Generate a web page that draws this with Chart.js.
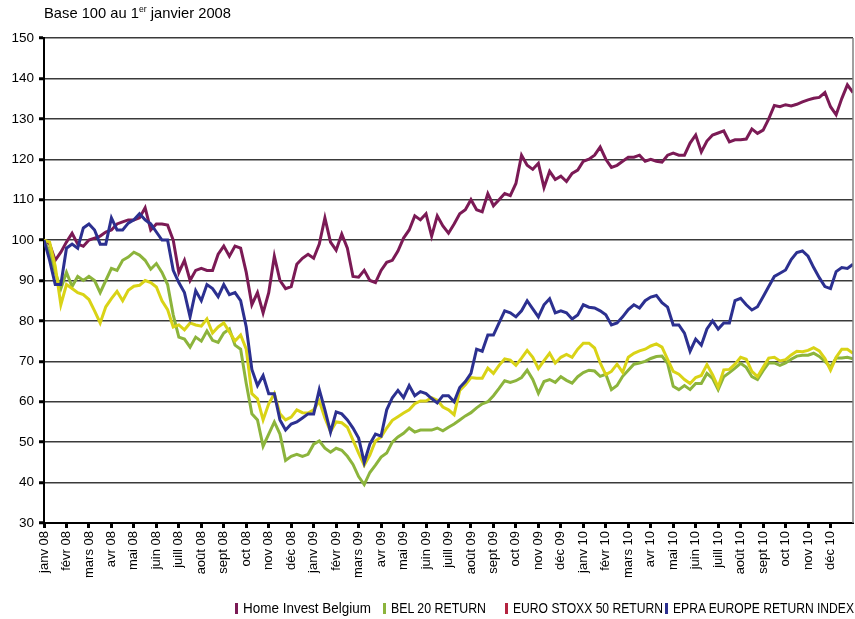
<!DOCTYPE html>
<html>
<head>
<meta charset="utf-8">
<script src="https://cdn.jsdelivr.net/npm/chart.js@4.4.1/dist/chart.umd.min.js"></script>
<style>
  html,body{margin:0;padding:0;background:#fff;}
  #wrap{position:relative;width:855px;height:619px;overflow:hidden;font-family:"Liberation Sans",Arial,sans-serif;color:#000;}
  #title{position:absolute;left:44px;top:5px;font-size:14.5px;white-space:nowrap;display:inline-block;transform-origin:0 50%;}
  #title sup{font-size:8.5px;vertical-align:6px;line-height:0;}
  .leg{position:absolute;top:600px;font-size:14px;white-space:nowrap;line-height:16px;}
  .leg i{display:inline-block;width:3px;height:11px;margin-right:5px;vertical-align:-1px;}
  .leg span{display:inline-block;transform-origin:0 50%;}
  canvas{position:absolute;left:0;top:0;}
</style>
</head>
<body>
<div id="wrap">
  <canvas id="c" width="855" height="619"></canvas>
  <div id="title">Base 100 au 1<sup>er</sup> janvier 2008</div>
  <div id="legend"></div>
</div>
<script>
// ---- Data (sampled every quarter month, Jan 2008 -> Dec 2010) ----
const monthNames = ['janv','févr','mars','avr','mai','juin','juill','août','sept','oct','nov','déc'];
const years = ['08','09','10'];
const seriesNames = ['Home Invest Belgium','BEL 20 RETURN','EURO STOXX 50 RETURN','EPRA EUROPE RETURN INDEX'];

const homeInvest = [100,99,95,97,99.5,101.7,99,98.5,100,100.5,
101,102,102.5,104,104.5,105,105,105.5,108,102.5,
104,104,103.7,100,92,95,90,92.5,93,92.5,
92.5,96.5,98.5,96,98.5,98,92,84,87,82,
87,96,90,88,88.5,94,95.5,96.5,95.5,99,
105.5,99.5,97.5,101.5,98,91,90.8,92.5,90,89.5,
92.5,94.5,95,97.3,100.5,102.5,106,105,106.5,101,
106,103.5,101.7,104,106.5,107.5,110,107.5,107,111.5,
108.5,110,111.5,111,114,121,118.5,117.5,119,113,
117,115,115.8,114.5,116.5,117.3,119.5,120,121,123,
120,118,118.5,119.5,120.5,120.5,121,119.5,120,119.5,
119.3,121,121.5,121,121,124,126,121.8,124.5,126,
126.5,127,124.3,124.8,124.8,125,127.5,126.4,127.2,130,
133.3,133,133.5,133.2,133.6,134.2,134.7,135.1,135.3,136.5,
133,131,135,138.4,136.5];

const bel20 = [100,97,92,88,92,88.5,91,90,91,90,
87,90,93,92.5,95,95.8,97,96.3,95,92.8,
94.2,92,89,81.5,76,75.5,73.5,76,75,77.5,
75.2,74.7,77,78,74,73,64.5,57,55.5,49,
52,55,52,45.5,46.5,47,46.5,47,49.5,50.3,
48.5,47.5,48.5,48,46.5,44.5,41.5,39.5,42.5,44.3,
46.3,47.3,50,51.3,52.2,53.5,52.5,53,53,53,
53.5,52.8,53.7,54.5,55.5,56.5,57.3,58.5,59.5,60,
61.5,63.3,65.2,64.8,65.2,66,67.8,65.5,62.1,65,
65.5,64.8,66.2,65.3,64.6,66.2,67.2,67.8,67.6,66.3,
66.8,63,64,66.3,67.8,69.3,69.6,70,70.7,71.2,
71.3,69.5,63.8,63,64,63,64.5,64.5,67,65.8,
63,66.2,67.2,68.3,69.5,68.5,66.2,65.5,67.7,69.6,
69.6,69,69.6,70.5,71.3,71.5,71.5,72,71.2,70,
68.6,70.8,70.8,71,70.6];

const euroStoxx50 = [100,99.5,93.5,84,89,88,87,86.5,85.3,82.5,
79.5,83.5,85.5,87.3,85,87.6,88.6,88.8,90,89.5,
88.4,85,82.8,78.5,79,77.8,79.5,79,78.7,80.5,
77,78.5,79.5,77.3,75,76.5,73,62,60.7,55.5,
59.5,62,57,55.5,56.2,58,57.3,57.2,58,60.2,
56,52.6,55,54.8,53.7,50.5,47.3,44.3,46.8,50.3,
51.3,53.5,55.4,56.3,57.2,58,59.5,60.2,60.2,61,
60.4,58.7,58,56.8,62.8,64.2,66,65.8,65.8,68.3,
67,69,70.6,70.3,69,70.8,72.7,71,68.2,70.2,
72,69.6,71,71.7,71,73,74.5,74.5,73.3,69.6,
66.7,67.5,69.3,67.3,71,72,72.6,73,73.8,74.3,
73.5,70.5,67.5,66.8,65.5,64.5,66,66.5,69.2,66.7,
63.6,67.9,68,69.3,71,70.5,67.5,66.2,68.5,70.8,
71,70.1,70.4,71.6,72.5,72.4,72.7,73.4,72.6,70.7,
67.8,71,73,73,72];

const epraEurope = [100,95,89,89,98,99,98,103,104,102.5,
99,99,105.5,102.5,102.5,104.2,105,106.5,105,104,
102,100,100,92.5,89.5,87,81,87.5,85,89,
88,86,89,86.5,87,85,78.5,68,64,66.5,
62,62,55.5,53,54.5,55,56,57,57,63,
58,52.5,57.5,57,55.5,53.5,51,45,49.5,52,
51.5,58,61,62.8,61,64,61.5,62.5,62,60.8,
59.7,61.5,61.5,60,63.5,65,67,73,72.5,76.5,
76.5,79.5,82.5,82,81,82.5,85,83,81,84,
85.5,82,82.5,82,80.5,81.5,84,83.4,83.2,82.5,
81.5,79,79.5,81,82.8,84,83.2,85,85.9,86.3,
84.5,83.4,79,79,77,72.5,75.5,74,78,80,
78,79.5,79.5,85,85.6,84,82.7,83.5,86,88.5,
91,91.8,92.6,95.2,96.9,97.3,96,93.2,90.7,88.5,
88,92.2,93.2,93,94];

const samplesPerMonth = 4;
const yTicks = {min:30, max:150, step:10};

// ---- Build ----
const monthLabels = [];
years.forEach(y => monthNames.forEach(m => monthLabels.push(m + ' ' + y)));

function toPoints(arr){ return arr.map((v,i)=>({x:i/samplesPerMonth, y:v})); }

const lineColors = ['#7b1a55','#8cb43c','#d9d316','#2c3090'];
const legendColors = ['#7b1a55','#8cb43c','#b4233f','#2c3090'];
const seriesData = [homeInvest, bel20, euroStoxx50, epraEurope];
const drawOrder = [3,2,1,0];

const FONT = '"Liberation Sans",Arial,sans-serif';

const rightBorder = {
  id:'rightBorder',
  afterDraw(chart){
    const a = chart.chartArea, ctx = chart.ctx;
    ctx.save();
    ctx.strokeStyle = '#808080'; ctx.lineWidth = 1.5;
    ctx.beginPath(); ctx.moveTo(a.right, a.top); ctx.lineTo(a.right, a.bottom); ctx.stroke();
    ctx.restore();
  }
};

new Chart(document.getElementById('c'), {
  type:'line',
  data:{
    datasets: seriesData.map((d,i)=>({
      label: seriesNames[i],
      data: toPoints(d),
      borderColor: lineColors[i],
      backgroundColor: lineColors[i],
      borderWidth: 3,
      pointRadius: 0,
      tension: 0,
      fill: false,
      order: drawOrder[i]
    }))
  },
  options:{
    responsive:false, animation:false, devicePixelRatio:1,
    layout:{padding:{left:0,right:2,top:38,bottom:0}},
    plugins:{legend:{display:false}, tooltip:{enabled:false}},
    scales:{
      x:{
        type:'linear', min:0, max:monthLabels.length,
        afterBuildTicks: s => { s.ticks = s.ticks.filter(t => t.value < monthLabels.length && Number.isInteger(t.value)); },
        afterFit: s => { s.height = 96; },
        ticks:{stepSize:1, autoSkip:false, maxRotation:90, minRotation:90, padding:3,
          color:'#000', font:{family:FONT, size:13},
          callback: v => monthLabels[v] ?? ''},
        grid:{drawOnChartArea:false, drawTicks:true, tickLength:5, tickWidth:3, tickColor:'#000'},
        border:{display:true, color:'#000', width:2}
      },
      y:{
        min:yTicks.min, max:yTicks.max,
        afterFit: s => { s.width = 44; },
        ticks:{stepSize:yTicks.step, padding:5, color:'#000', font:{family:FONT, size:13.5}},
        grid:{color:'#3a3a3a', lineWidth:1.5, tickLength:5, tickWidth:3, tickColor:'#000'},
        border:{display:true, color:'#000', width:2}
      }
    }
  },
  plugins:[rightBorder]
});

// ---- condense text horizontally to mimic a narrow typeface ----
function fitWidth(el, target){
  const w = el.getBoundingClientRect().width;
  if (w > 0) el.style.transform = 'scaleX(' + (target / w) + ')';
}
fitWidth(document.getElementById('title'), 187);

// ---- HTML legend ----
const legendLeft = [235, 383, 505, 665];
const legendTextWidth = [128, 95, 150, 181];
const legend = document.getElementById('legend');
seriesNames.forEach((n,i)=>{
  const d = document.createElement('div');
  d.className='leg';
  d.style.left = legendLeft[i]+'px';
  const m = document.createElement('i');
  m.style.background = legendColors[i];
  d.appendChild(m);
  const s = document.createElement('span');
  s.textContent = n;
  d.appendChild(s);
  legend.appendChild(d);
  fitWidth(s, legendTextWidth[i]);
});
</script>
</body>
</html>
